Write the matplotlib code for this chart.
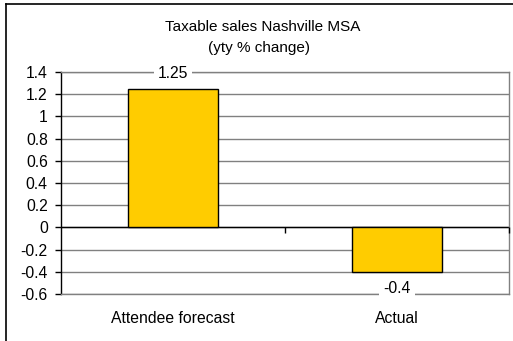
import numpy as np
import matplotlib.pyplot as plt
from matplotlib.lines import Line2D

plt.rcParams['font.family'] = ['Liberation Sans', 'DejaVu Sans']

# taxable sales, year-to-year % change
categories = ['Attendee forecast', 'Actual']
values = [1.25, -0.4]
value_labels = ['1.25', '-0.4']
yticks = np.round(np.arange(-0.6, 1.41, 0.2), 1)

W, H = 513, 341
FS = 11.3
fig = plt.figure(figsize=(W / 100, H / 100), dpi=100)
fig.patch.set_facecolor('white')

# chart border (left and top edges only, the rest falls outside the image)
fig.add_artist(Line2D([6 / W, 6 / W], [0, 1 - 4 / H], color='black', lw=1.2))
fig.add_artist(Line2D([6 / W, 1], [1 - 4 / H, 1 - 4 / H], color='black', lw=1.2))

fig.text(263 / W, 1 - 27 / H, 'Taxable sales Nashville MSA', ha='center', va='center', fontsize=11)
fig.text(259 / W, 1 - 48 / H, '(yty % change)', ha='center', va='center', fontsize=11)

ax = fig.add_axes([61 / W, 1 - 294 / H, (509 - 61) / W, (294 - 72) / H])
x = np.arange(len(categories))
ax.bar(x, values, width=0.4, color='#FFCC00', edgecolor='black', linewidth=1, zorder=3)

ax.set_xlim(-0.5, 1.5)
ax.set_ylim(-0.6, 1.4)
ax.set_yticks(yticks)
ax.set_yticklabels(['%g' % t for t in yticks])
ax.grid(axis='y', color='#808080', linewidth=1, zorder=1)
ax.set_axisbelow(True)

for s in ['top', 'right', 'bottom']:
    ax.spines[s].set_color('#808080')
    ax.spines[s].set_linewidth(1)
ax.spines['left'].set_color('black')
ax.spines['left'].set_linewidth(1)

ax.axhline(0, color='black', linewidth=1, zorder=2)
ax.plot([0.5, 1.5], [0, 0], linestyle='none', marker=3, markersize=4,
        color='black', clip_on=False, zorder=4)

ax.tick_params(axis='y', direction='out', length=4.5, width=1, labelsize=FS, pad=5)
ax.set_xticks(x)
ax.set_xticklabels(categories)
ax.tick_params(axis='x', length=0, labelsize=FS, pad=12)

for xi, v, lab in zip(x, values, value_labels):
    off = 15.5 if v > 0 else -17
    ax.annotate(lab, (xi, v), xytext=(0, off), textcoords='offset pixels',
                ha='center', va='center', fontsize=FS, zorder=5,
                bbox=dict(facecolor='white', edgecolor='none', pad=3))

fig.savefig('out.png', dpi=100)
